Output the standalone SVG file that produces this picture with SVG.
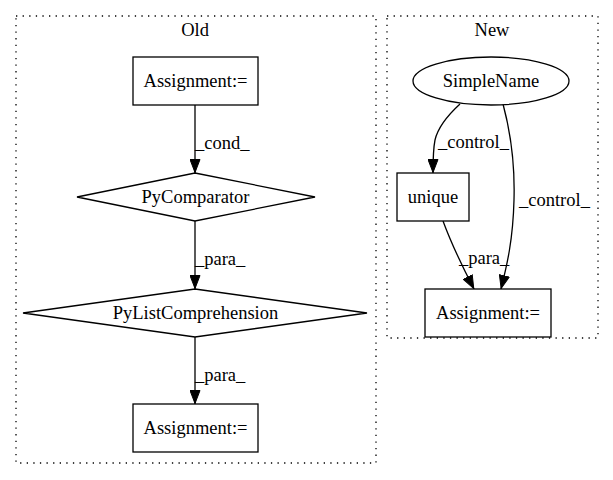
<svg xmlns="http://www.w3.org/2000/svg" width="613" height="480" viewBox="0 0 613 480">
<defs>
<marker id="ah" markerWidth="14" markerHeight="11" refX="14" refY="5.5" orient="auto" markerUnits="userSpaceOnUse">
<polygon points="0.5,0.5 13.5,5.5 0.5,10.5" fill="#000" stroke="#000" stroke-width="1"/>
</marker>
</defs>
<style>
text{font-family:'Liberation Serif','Times New Roman',serif;font-size:18.5px;fill:#000}
.c{text-anchor:middle}
.n{fill:#fff;stroke:#000;stroke-width:1.3}
.cl{fill:none;stroke:#000;stroke-width:1.3;stroke-dasharray:1.3,5.3}
.e{fill:none;stroke:#000;stroke-width:1.3;marker-end:url(#ah)}
</style>
<rect width="613" height="480" fill="#fff"/>
<g id="cluster_old">
<rect class="cl" x="16" y="16" width="360" height="447"/>
<text class="c" x="195" y="36" font-family="Liberation Serif, serif">Old</text>
</g>
<g id="cluster_new">
<rect class="cl" x="387" y="16" width="211" height="322"/>
<text class="c" x="492" y="36" font-family="Liberation Serif, serif">New</text>
</g>
<g id="connectors" font-family="Liberation Serif, serif">
<path class="e" d="M195,105 L195,173"/>
<text x="195" y="149">_cond_</text>
<path class="e" d="M195,221 L195,289"/>
<text x="195" y="265">_para_</text>
<path class="e" d="M195,337 L195,404"/>
<text x="195" y="381">_para_</text>
<path class="e" d="M460,104 C448,115 438,127 435,140 C433,150 433,160 433,173"/>
<text x="438" y="148">_control_</text>
<path class="e" d="M503,104 C510,130 515,165 514,200 C513,240 507,265 501,289"/>
<text x="519" y="206">_control_</text>
<path class="e" d="M443,221 C450,240 460,262 474,289"/>
<text x="459" y="264">_para_</text>
</g>
<g id="node_old_assign1" font-family="Liberation Serif, serif">
<rect class="n" x="133" y="57" width="125" height="48"/>
<text class="c" x="195.5" y="87">Assignment:=</text>
</g>
<g id="node_pycomparator" font-family="Liberation Serif, serif">
<polygon class="n" points="195,173 315,197 195,221 77,197"/>
<text class="c" x="195.5" y="203">PyComparator</text>
</g>
<g id="node_pylistcomp" font-family="Liberation Serif, serif">
<polygon class="n" points="195,289 367,313 195,337 23,313"/>
<text class="c" x="195.5" y="319">PyListComprehension</text>
</g>
<g id="node_old_assign2" font-family="Liberation Serif, serif">
<rect class="n" x="133" y="404" width="125" height="48"/>
<text class="c" x="195.5" y="434">Assignment:=</text>
</g>
<g id="node_simplename" font-family="Liberation Serif, serif">
<ellipse class="n" cx="491" cy="81" rx="78" ry="24"/>
<text class="c" x="491" y="87">SimpleName</text>
</g>
<g id="node_unique" font-family="Liberation Serif, serif">
<rect class="n" x="397" y="173" width="72" height="48"/>
<text class="c" x="433" y="203">unique</text>
</g>
<g id="node_new_assign" font-family="Liberation Serif, serif">
<rect class="n" x="425" y="289" width="126" height="48"/>
<text class="c" x="488" y="319">Assignment:=</text>
</g>
</svg>
